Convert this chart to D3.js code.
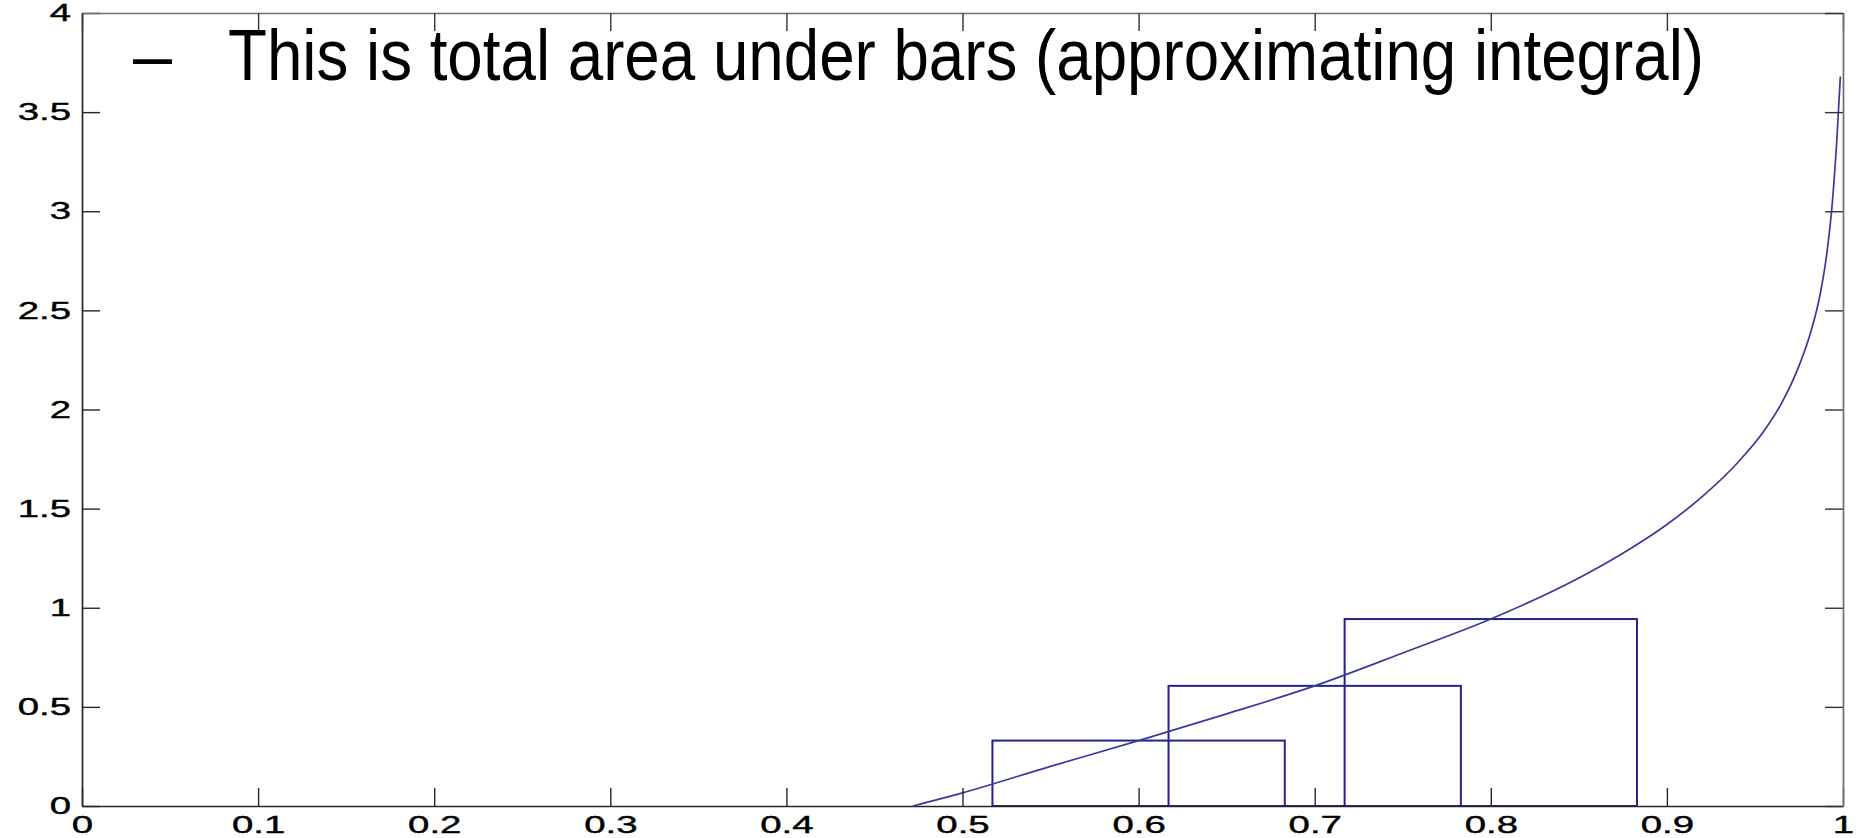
<!DOCTYPE html>
<html>
<head>
<meta charset="utf-8">
<script src="https://cdn.jsdelivr.net/npm/d3@7"></script>
<style>
    body { margin: 0; background: #fff; }
    .axis text { font-family: "Liberation Sans", Arial, sans-serif; font-size: 24px; fill: #000; stroke: #000; stroke-width: 0.4px; }
    .subtitle { font-family: "Liberation Sans", Arial, sans-serif; font-size: 72px; fill: #000; }
</style>
</head>
<body>
<div id="chart-area"></div>
<script>

// Tick values and labels
const xTickValues = [0, 0.1, 0.2, 0.3, 0.4, 0.5, 0.6, 0.7, 0.8, 0.9, 1];
const xTickLabels = ["0", "0.1", "0.2", "0.3", "0.4", "0.5", "0.6", "0.7", "0.8", "0.9", "1"];
const yTickValues = [0, 0.5, 1, 1.5, 2, 2.5, 3, 3.5, 4];
const yTickLabels = ["0", "0.5", "1", "1.5", "2", "2.5", "3", "3.5", "4"];

// Midpoint bars (start, end, height)
const barStarts = [0.517, 0.617, 0.717];
const barEnds = [0.683, 0.783, 0.883];
const barHeights = [0.33, 0.606, 0.943];

// Curve
const curveX = [0.472, 0.5, 0.55, 0.6, 0.65, 0.7, 0.75, 0.8, 0.85, 0.875, 0.9, 0.92, 0.94,
    0.955, 0.965, 0.975, 0.982, 0.987, 0.991, 0.994, 0.9965, 0.9985];
const curveY = [0, 0.066, 0.2, 0.33, 0.465, 0.606, 0.772, 0.943, 1.15, 1.275, 1.42, 1.56, 1.73,
    1.89, 2.03, 2.22, 2.4, 2.58, 2.8, 3.05, 3.36, 3.68];

const subtitleDash = "\u2013";
const subtitleText = "This is total area under bars (approximating integral)";

class MidpointChart {

    constructor(_parentElement) {
        this.parentElement = _parentElement;
        this.initVis();
    }

    initVis() {
        let vis = this;

        vis.margin = { top: 13, right: 17, bottom: 32, left: 82 };
        vis.width = 1860 - vis.margin.left - vis.margin.right;
        vis.height = 838 - vis.margin.top - vis.margin.bottom;
        vis.stretch = 1.6;

        vis.root = d3.select("#" + vis.parentElement).append("svg")
            .attr("width", 1860)
            .attr("height", 838);

        vis.svg = vis.root.append("g")
            .attr("transform", "translate(" + vis.margin.left + "," + vis.margin.top + ")");

        // Scales
        vis.x = d3.scaleLinear().domain([0, 1]).range([0, vis.width]);
        vis.y = d3.scaleLinear().domain([0, 4]).range([vis.height, 0]);

        vis.bars = barStarts.map((d, i) => ({ start: d, end: barEnds[i], h: barHeights[i] }));
        vis.curve = curveX.map((d, i) => ({ x: d, y: curveY[i] }));

        vis.updateVis();
    }

    updateVis() {
        let vis = this;

        // Bars (outlines only)
        vis.svg.selectAll(".bar")
            .data(vis.bars)
            .enter().append("rect")
            .attr("class", "bar")
            .attr("x", d => vis.x(d.start))
            .attr("width", d => vis.x(d.end) - vis.x(d.start))
            .attr("y", d => vis.y(d.h))
            .attr("height", d => vis.y(0) - vis.y(d.h))
            .attr("fill", "none")
            .attr("stroke", "#23238c")
            .attr("stroke-width", 2);

        // Curve
        let line = d3.line()
            .x(d => vis.x(d.x))
            .y(d => vis.y(d.y))
            .curve(d3.curveMonotoneX);

        vis.svg.append("path")
            .datum(vis.curve)
            .attr("d", line)
            .attr("fill", "none")
            .attr("stroke", "#3a3a9e")
            .attr("stroke-width", 1.7);

        // Axes, ticks pointing inwards
        let tick = 18;

        let xAxis = d3.axisBottom(vis.x)
            .tickValues(xTickValues)
            .tickFormat((d, i) => xTickLabels[i])
            .tickSizeInner(-tick).tickSizeOuter(0);
        let yAxis = d3.axisLeft(vis.y)
            .tickValues(yTickValues)
            .tickFormat((d, i) => yTickLabels[i])
            .tickSizeInner(-tick).tickSizeOuter(0);
        let topAxis = d3.axisTop(vis.x)
            .tickValues(xTickValues).tickFormat("")
            .tickSizeInner(-tick).tickSizeOuter(0);
        let rightAxis = d3.axisRight(vis.y)
            .tickValues(yTickValues).tickFormat("")
            .tickSizeInner(-tick).tickSizeOuter(0);

        let gx = vis.svg.append("g")
            .attr("class", "x-axis axis")
            .attr("transform", "translate(0," + vis.height + ")")
            .call(xAxis);
        gx.selectAll("text")
            .attr("y", 10)
            .attr("dy", "0.71em")
            .attr("transform", "scale(" + vis.stretch + ",1)");

        let gy = vis.svg.append("g")
            .attr("class", "y-axis axis")
            .call(yAxis);
        gy.selectAll("text")
            .attr("x", -11 / vis.stretch)
            .attr("transform", "scale(" + vis.stretch + ",1)");

        let gt = vis.svg.append("g")
            .attr("class", "top-axis axis")
            .call(topAxis);
        let gr = vis.svg.append("g")
            .attr("class", "right-axis axis")
            .attr("transform", "translate(" + vis.width + ",0)")
            .call(rightAxis);

        [gx, gy].forEach(g => {
            g.select(".domain").attr("stroke", "#262626").attr("stroke-width", 1.7);
            g.selectAll(".tick line").attr("stroke", "#262626").attr("stroke-width", 1.4);
        });
        [gt, gr].forEach(g => {
            g.select(".domain").attr("stroke", "#6e6e6e").attr("stroke-width", 1.7);
            g.selectAll(".tick line").attr("stroke", "#333").attr("stroke-width", 1.4);
        });

        // Slide text over the plot
        vis.root.append("text")
            .attr("class", "subtitle")
            .attr("x", 133)
            .attr("y", 80)
            .attr("textLength", 39)
            .attr("lengthAdjust", "spacingAndGlyphs")
            .text(subtitleDash);

        vis.root.append("text")
            .attr("class", "subtitle")
            .attr("x", 228)
            .attr("y", 80)
            .attr("textLength", 1476)
            .attr("lengthAdjust", "spacingAndGlyphs")
            .text(subtitleText);
    }
}

new MidpointChart("chart-area");

</script>
</body>
</html>
